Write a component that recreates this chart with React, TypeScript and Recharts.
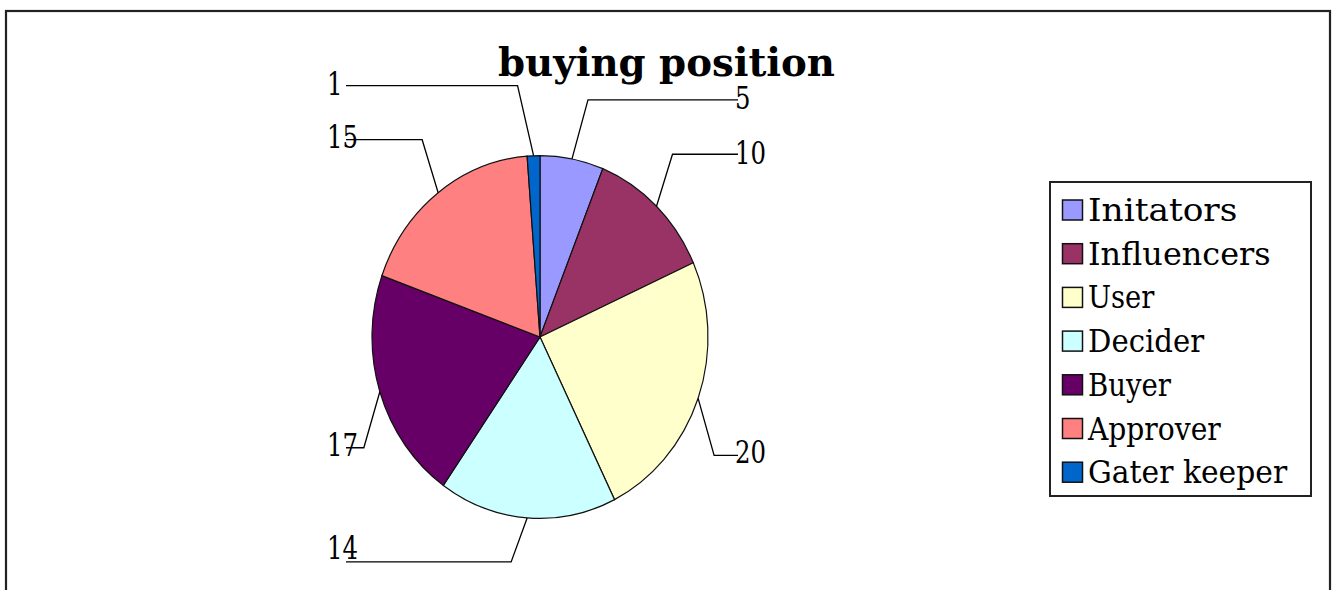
import React from 'react'
import { PieChart, Pie, Cell, Legend } from 'recharts'

const names = ['Initators', 'Influencers', 'User', 'Decider', 'Buyer', 'Approver', 'Gater keeper']
const values = [5, 10, 20, 14, 17, 15, 1]
const COLORS = ['#9999FF', '#993366', '#FFFFCC', '#CCFFFF', '#660066', '#FF8080', '#0066CC']

const data = names.map((name, i) => ({ name, value: values[i] }))

// layout
const CX = 540
const CY = 337
const R = 168
const KY = 1.08 // pie is drawn slightly taller than wide
const RAD = Math.PI / 180
const LEADER_DY = [-59, -52, 57, 44, 56, -53, -70]
const LABEL_LIFT = [2, 1, 3, 14, 3, 3, 2]
const FONT = '"DejaVu Serif", serif'
const CHAR_W = 16.6 // emulate the fixed-pitch chart font

const css = `
body { margin: 0; }
.ellipse-pie .recharts-pie-sector {
  transform-origin: ${CX}px ${CY}px;
  transform: scaleY(${KY});
}
`

const renderLabel = (props: any) => {
  const { cx, cy, midAngle, outerRadius, index, value } = props
  const cos = Math.cos(midAngle * RAD)
  const sin = Math.sin(midAngle * RAD)
  const ex = cx + outerRadius * cos
  const ey = cy - outerRadius * KY * sin
  const right = cos > 0
  const kx = ex + (right ? 16 : -16)
  const ky = ey + LEADER_DY[index]
  const endX = right ? cx + 198 : cx - 194
  const textX = right ? cx + 195 : cx - 213
  const txt = String(value)
  return (
    <g key={`lbl-${index}`}>
      <polyline
        points={`${ex},${ey} ${kx},${ky} ${endX},${ky}`}
        fill="none"
        stroke="#000"
        strokeWidth={1.3}
      />
      <text
        x={textX}
        y={ky - LABEL_LIFT[index]}
        fontFamily={FONT}
        fontSize={31}
        fill="#000"
        dominantBaseline="central"
        textLength={txt.length * 15.5}
        lengthAdjust="spacingAndGlyphs"
      >
        {txt}
      </text>
    </g>
  )
}

const renderLegend = (props: any) => {
  const payload = [...(props.payload || [])].sort(
    (a: any, b: any) => names.indexOf(a.value) - names.indexOf(b.value)
  )
  return (
    <div
      style={{
        boxSizing: 'border-box',
        width: 263,
        height: 316,
        border: '2px solid #222',
        background: '#fff',
      }}
    >
      <svg width={259} height={312} style={{ display: 'block' }}>
        {payload.map((entry: any, i: number) => {
          const y = 27 + i * 43.7
          return (
            <g key={i}>
              <rect
                x={11.5}
                y={y - 10}
                width={20}
                height={20}
                fill={entry.color}
                stroke="#111"
                strokeWidth={1.5}
              />
              <text
                x={37}
                y={y}
                fontFamily={FONT}
                fontSize={31}
                fill="#000"
                dominantBaseline="central"
                textLength={entry.value.length * CHAR_W}
                lengthAdjust="spacingAndGlyphs"
              >
                {entry.value}
              </text>
            </g>
          )
        })}
      </svg>
    </div>
  )
}

const App = () => {
  return (
    <div style={{ position: 'relative', width: 1336, height: 590, background: '#fff' }}>
      <style>{css}</style>
      <PieChart width={1336} height={590} margin={{ top: 0, right: 0, bottom: 0, left: 0 }}>
        <Pie
          className="ellipse-pie"
          data={data}
          dataKey="value"
          nameKey="name"
          cx={CX}
          cy={CY}
          outerRadius={R}
          startAngle={90}
          endAngle={-270}
          stroke="#111"
          strokeWidth={1.2}
          labelLine={false}
          label={renderLabel}
          isAnimationActive={false}
        >
          {data.map((entry, index) => (
            <Cell key={`cell-${index}`} fill={COLORS[index % COLORS.length]} />
          ))}
        </Pie>
        <Legend
          layout="vertical"
          content={renderLegend}
          wrapperStyle={{ left: 1049, top: 181, width: 263, height: 316 }}
        />
      </PieChart>
      <svg
        width={1336}
        height={590}
        style={{ position: 'absolute', left: 0, top: 0, pointerEvents: 'none' }}
      >
        <rect x={6} y={11} width={1324} height={620} fill="none" stroke="#222" strokeWidth={2.2} />
        <text
          x={498}
          y={76}
          fontFamily={FONT}
          fontWeight="bold"
          fontSize={40}
          fill="#000"
          textLength={337}
          lengthAdjust="spacingAndGlyphs"
        >
          buying position
        </text>
      </svg>
    </div>
  )
}

export default App
